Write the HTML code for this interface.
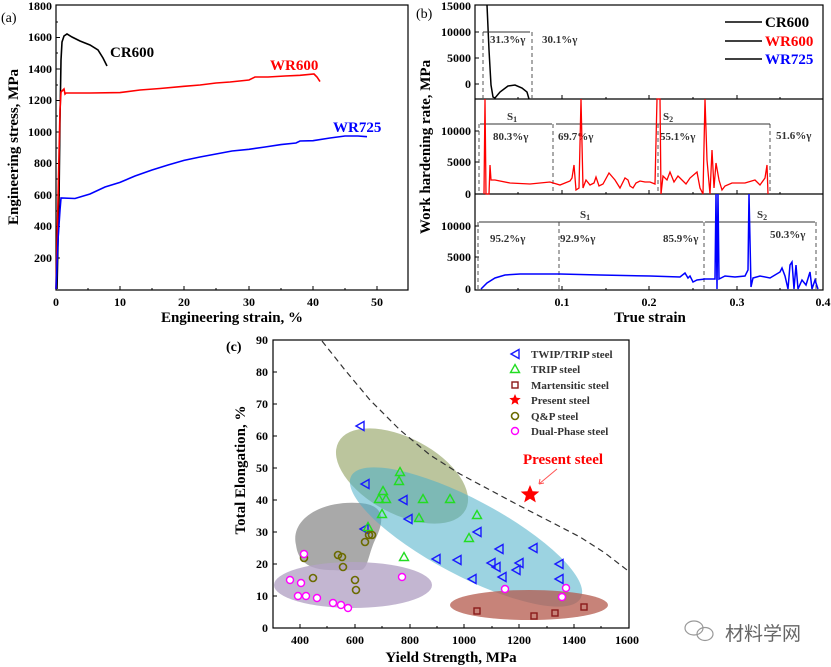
<!DOCTYPE html>
<html><head><meta charset="utf-8"><style>
html,body{margin:0;padding:0;background:#fff;}
svg{display:block;font-family:"Liberation Serif",serif;}
.t{font-weight:bold;font-size:12px;}
.ax{font-weight:bold;font-size:15px;}
.s{font-weight:bold;font-size:11px;fill:#333;}
</style></head><body>
<svg width="831" height="667" viewBox="0 0 831 667" xmlns="http://www.w3.org/2000/svg">
<!-- Panel a -->
<text x="1" y="22" font-size="14">(a)</text>
<rect x="56" y="5" width="352" height="285" fill="none" stroke="#000" stroke-width="1.2"/>
<g stroke="#000" stroke-width="1">
<path d="M56 258h4M56 226.5h4M56 195h4M56 163.5h4M56 132h4M56 100.5h4M56 69h4M56 37.5h4M56 242h2M56 211h2M56 179h2M56 148h2M56 116h2M56 85h2M56 53h2M56 22h2"/>
<path d="M120 290v-4M184 290v-4M249 290v-4M313 290v-4M377 290v-4M88 290v-2M152 290v-2M216 290v-2M281 290v-2M345 290v-2"/>
</g>
<g class="t" text-anchor="end">
<text x="52" y="10">1800</text><text x="52" y="41">1600</text><text x="52" y="73">1400</text><text x="52" y="104">1200</text><text x="52" y="136">1000</text><text x="52" y="167">800</text><text x="52" y="199">600</text><text x="52" y="230">400</text><text x="52" y="262">200</text>
</g>
<g class="t" text-anchor="middle">
<text x="56" y="306">0</text><text x="120" y="306">10</text><text x="184" y="306">20</text><text x="249" y="306">30</text><text x="313" y="306">40</text><text x="377" y="306">50</text>
</g>
<text class="ax" x="232" y="322" text-anchor="middle">Engineering strain, %</text>
<text class="ax" transform="translate(18,147) rotate(-90)" text-anchor="middle">Engineering stress, MPa</text>
<polyline fill="none" stroke="#000" stroke-width="1.6" points="57,289 59,200 60,120 61,60 62,42 64,36 67,34 72,37 80,41 90,45 98,50 103,58 107,66"/>
<polyline fill="none" stroke="#f00" stroke-width="1.6" points="56,289 58,200 60,110 61,92 63,90 64,89 65,94 66,93 90,93 120,92.6 140,90 160,88.5 184,86.3 200,85 216,83 230,82 249,80 255,77 268,77 285,76 300,75.3 314,74 317,77 320,81.6"/>
<polyline fill="none" stroke="#00f" stroke-width="1.6" points="56,289 58,240 60,210 61,198 75,198.5 90,194 105,187 120,182.4 135,176 152,170 168,165 184,160.4 200,157 216,154 232,151 249,149.3 265,147 281,144.6 296,143 300,141 313,140.7 330,138 345,136 358,136 367,136.7"/>
<text class="ax" x="110" y="57" font-size="17">CR600</text>
<text class="ax" x="270" y="70" font-size="17" fill="#f00">WR600</text>
<text class="ax" x="333" y="132" font-size="17" fill="#00f">WR725</text>

<!-- Panel b -->
<text x="416" y="18" font-size="14">(b)</text>
<rect x="475" y="5" width="348" height="285" fill="none" stroke="#000" stroke-width="1.2"/>
<path d="M475 99H823M475 194H823" stroke="#000" stroke-width="1.2"/>
<g stroke="#000" stroke-width="1">
<path d="M562 99v-4M649 99v-4M737 99v-4M518 99v-2M606 99v-2M693 99v-2M780 99v-2"/>
<path d="M562 194v-4M649 194v-4M737 194v-4M518 194v-2M606 194v-2M693 194v-2M780 194v-2"/>
<path d="M562 290v-4M649 290v-4M737 290v-4M518 290v-2M606 290v-2M693 290v-2M780 290v-2"/>
<path d="M475 32h4M475 58h4M475 84h4M475 131h4M475 162h4M475 226h4M475 257h4"/>
</g>
<g class="t" text-anchor="end">
<text x="471" y="10">15000</text><text x="471" y="36">10000</text><text x="471" y="62">5000</text><text x="471" y="88">0</text>
<text x="471" y="135">10000</text><text x="471" y="166">5000</text><text x="471" y="198">0</text>
<text x="471" y="230">10000</text><text x="471" y="261">5000</text><text x="471" y="293">0</text>
</g>
<g class="t" text-anchor="middle">
<text x="562" y="306">0.1</text><text x="649" y="306">0.2</text><text x="737" y="306">0.3</text><text x="823" y="306">0.4</text>
</g>
<text class="ax" x="650" y="322" text-anchor="middle">True strain</text>
<text class="ax" transform="translate(430,147) rotate(-90)" text-anchor="middle">Work hardening rate, MPa</text>
<g stroke="#000" stroke-width="1.4"><path d="M725 22h37M725 41h37M725 59h37"/></g>
<text class="ax" x="765" y="27">CR600</text>
<text class="ax" x="765" y="46" fill="#f00">WR600</text>
<text class="ax" x="765" y="64" fill="#00f">WR725</text>
<polyline fill="none" stroke="#000" stroke-width="1.5" points="487,5 489,50 491,85 493,97 495,98 500,92 508,86 515,85 522,88 527,92 529,99"/>
<g stroke="#555" stroke-dasharray="4,3" fill="none"><path d="M483 32V99M532 32V99"/></g>
<path d="M483 32H530" stroke="#333"/>
<text class="s" x="490" y="43">31.3%γ</text><text class="s" x="542" y="43">30.1%γ</text>
<g stroke="#555" stroke-dasharray="4,3" fill="none"><path d="M479 124V194M553 124V194M658 124V194M770 124V194"/></g>
<path d="M480 124H552M556 124H770" stroke="#333"/>
<text class="s" x="507" y="120">S<tspan font-size="8" dy="2">1</tspan></text>
<text class="s" x="663" y="120">S<tspan font-size="8" dy="2">2</tspan></text>
<text class="s" x="493" y="140">80.3%γ</text><text class="s" x="558" y="140">69.7%γ</text><text class="s" x="660" y="140">55.1%γ</text><text class="s" x="776" y="139">51.6%γ</text>
<polyline fill="none" stroke="#f00" stroke-width="1.3" points="484,194 485,99 486,194 489,194 490,165 491,180 495,180 510,183 530,184 550,182 560,185 570,181 572,178 574,165 576,190 579,188 581,99 583,188 586,180 590,185 594,183 596,177 599,186 603,184 609,173 615,180 620,188 625,178 628,180 630,186 633,188 636,183 640,181 645,182 650,182 655,184 657,99 660,99 661,194 663,176 667,180 670,172 674,182 678,176 682,180 686,184 690,178 697,172 700,188 703,194 705,99 707,160 710,194 712,150 714,188 716,163 719,180 722,190 725,186 732,183 745,183 755,180 760,185 765,178 767,165 768,194"/>
<g stroke="#555" stroke-dasharray="4,3" fill="none"><path d="M478 222V289M559 222V289M704 222V289M816 222V289"/></g>
<path d="M479 222H703M705 222H815" stroke="#333"/>
<text class="s" x="580" y="218">S<tspan font-size="8" dy="2">1</tspan></text>
<text class="s" x="757" y="218">S<tspan font-size="8" dy="2">2</tspan></text>
<text class="s" x="490" y="242">95.2%γ</text><text class="s" x="560" y="242">92.9%γ</text><text class="s" x="663" y="242">85.9%γ</text><text class="s" x="770" y="238">50.3%γ</text>
<polyline fill="none" stroke="#00f" stroke-width="1.5" points="481,289 487,283 495,278 505,275 520,274 560,274 600,275 650,276 680,277 685,273 688,278 690,276 693,282 697,280 705,279 715,279 716,194 717,289 718,194 719,279 725,276 735,277 745,276 748,270 749,194 751,287 753,278 760,276 770,278 780,272 782,268 785,276 788,289 790,265 792,262 794,289 796,265 798,289 802,280 806,285 810,272 812,289 815,280 818,289"/>

<!-- Panel c -->
<text x="226" y="351" font-size="14" font-weight="bold">(c)</text>
<ellipse cx="402" cy="476" rx="72" ry="38" transform="rotate(28 402 476)" fill="#8e9e5c" opacity="0.6"/>
<path d="M296 545 C290 520 320 500 360 503 C385 505 385 520 375 540 C368 555 368 570 360 570 C330 570 300 575 296 545Z" fill="#8c8c8c" opacity="0.75"/>
<ellipse cx="353" cy="585" rx="79" ry="23" fill="#b4a4c6" opacity="0.8"/>
<ellipse cx="466" cy="537" rx="130" ry="38" transform="rotate(28 466 537)" fill="#4aaec8" opacity="0.55"/>
<ellipse cx="529" cy="605" rx="79" ry="15" fill="#b45a4c" opacity="0.75"/>
<rect x="273" y="340" width="356" height="288" fill="none" stroke="#000" stroke-width="1.2"/>
<g stroke="#000" stroke-width="1">
<path d="M300 628v-4M355 628v-4M410 628v-4M464 628v-4M519 628v-4M574 628v-4M327 628v-2M382 628v-2M437 628v-2M492 628v-2M547 628v-2M601 628v-2"/>
<path d="M273 596h4M273 564h4M273 532h4M273 500h4M273 468h4M273 436h4M273 404h4M273 372h4"/>
</g>
<g class="t" text-anchor="end">
<text x="268" y="632">0</text><text x="268" y="600">10</text><text x="268" y="568">20</text><text x="268" y="536">30</text><text x="268" y="504">40</text><text x="268" y="472">50</text><text x="268" y="440">60</text><text x="268" y="408">70</text><text x="268" y="376">80</text><text x="268" y="344">90</text>
</g>
<g class="t" text-anchor="middle">
<text x="300" y="644">400</text><text x="355" y="644">600</text><text x="410" y="644">800</text><text x="464" y="644">1000</text><text x="519" y="644">1200</text><text x="574" y="644">1400</text><text x="627" y="644">1600</text>
</g>
<text class="ax" x="451" y="662" text-anchor="middle">Yield Strength, MPa</text>
<text class="ax" transform="translate(245,470) rotate(-90)" text-anchor="middle">Total Elongation, %</text>
<polyline fill="none" stroke="#333" stroke-width="1.2" stroke-dasharray="6,4" points="322,341 345,370 370,400 400,430 430,455 460,474 490,490 520,506 553,523 580,537 605,553 627,570"/>
<g fill="none" stroke="#1a1aff" stroke-width="1.4">
<path d="M-4 0L4 -4.5L4 4.5Z" transform="translate(360,426)"/>
<path d="M-4 0L4 -4.5L4 4.5Z" transform="translate(365,484)"/>
<path d="M-4 0L4 -4.5L4 4.5Z" transform="translate(403,500)"/>
<path d="M-4 0L4 -4.5L4 4.5Z" transform="translate(408,519)"/>
<path d="M-4 0L4 -4.5L4 4.5Z" transform="translate(364,529)"/>
<path d="M-4 0L4 -4.5L4 4.5Z" transform="translate(477,532)"/>
<path d="M-4 0L4 -4.5L4 4.5Z" transform="translate(436,559)"/>
<path d="M-4 0L4 -4.5L4 4.5Z" transform="translate(457,560)"/>
<path d="M-4 0L4 -4.5L4 4.5Z" transform="translate(472,579)"/>
<path d="M-4 0L4 -4.5L4 4.5Z" transform="translate(499,549)"/>
<path d="M-4 0L4 -4.5L4 4.5Z" transform="translate(491,563)"/>
<path d="M-4 0L4 -4.5L4 4.5Z" transform="translate(496,567)"/>
<path d="M-4 0L4 -4.5L4 4.5Z" transform="translate(502,577)"/>
<path d="M-4 0L4 -4.5L4 4.5Z" transform="translate(519,563)"/>
<path d="M-4 0L4 -4.5L4 4.5Z" transform="translate(516,570)"/>
<path d="M-4 0L4 -4.5L4 4.5Z" transform="translate(533,548)"/>
<path d="M-4 0L4 -4.5L4 4.5Z" transform="translate(559,564)"/>
<path d="M-4 0L4 -4.5L4 4.5Z" transform="translate(559,579)"/>
<path d="M-4 0L4 -4.5L4 4.5Z" transform="translate(515,354)"/>
</g>
<g fill="none" stroke="#22dd22" stroke-width="1.4">
<path d="M0 -4.5L4.5 3.5L-4.5 3.5Z" transform="translate(400,472)"/>
<path d="M0 -4.5L4.5 3.5L-4.5 3.5Z" transform="translate(399,481)"/>
<path d="M0 -4.5L4.5 3.5L-4.5 3.5Z" transform="translate(383,491)"/>
<path d="M0 -4.5L4.5 3.5L-4.5 3.5Z" transform="translate(379,499)"/>
<path d="M0 -4.5L4.5 3.5L-4.5 3.5Z" transform="translate(386,499)"/>
<path d="M0 -4.5L4.5 3.5L-4.5 3.5Z" transform="translate(382,514)"/>
<path d="M0 -4.5L4.5 3.5L-4.5 3.5Z" transform="translate(423,499)"/>
<path d="M0 -4.5L4.5 3.5L-4.5 3.5Z" transform="translate(450,499)"/>
<path d="M0 -4.5L4.5 3.5L-4.5 3.5Z" transform="translate(419,518)"/>
<path d="M0 -4.5L4.5 3.5L-4.5 3.5Z" transform="translate(477,515)"/>
<path d="M0 -4.5L4.5 3.5L-4.5 3.5Z" transform="translate(469,538)"/>
<path d="M0 -4.5L4.5 3.5L-4.5 3.5Z" transform="translate(404,557)"/>
<path d="M0 -4.5L4.5 3.5L-4.5 3.5Z" transform="translate(368,527)"/>
<path d="M0 -4.5L4.5 3.5L-4.5 3.5Z" transform="translate(515,369)"/>
</g>
<g fill="none" stroke="#8b1a1a" stroke-width="1.4">
<rect x="474" y="608" width="6" height="6"/><rect x="531" y="613" width="6" height="6"/><rect x="552" y="610" width="6" height="6"/><rect x="581" y="604" width="6" height="6"/><rect x="512" y="382" width="6" height="6"/>
</g>
<g fill="none" stroke="#6b6b00" stroke-width="1.6">
<circle cx="304" cy="558" r="3.5"/><circle cx="313" cy="578" r="3.5"/><circle cx="338" cy="555" r="3.5"/><circle cx="342" cy="557" r="3.5"/><circle cx="343" cy="567" r="3.5"/><circle cx="355" cy="580" r="3.5"/><circle cx="356" cy="590" r="3.5"/><circle cx="365" cy="542" r="3.5"/><circle cx="369" cy="535" r="3.5"/><circle cx="372" cy="535" r="3.5"/><circle cx="515" cy="416" r="3.5"/>
</g>
<g fill="#fff" stroke="#ff00ff" stroke-width="1.4">
<circle cx="290" cy="580" r="3.5"/><circle cx="301" cy="583" r="3.5"/><circle cx="298" cy="596" r="3.5"/><circle cx="306" cy="596" r="3.5"/><circle cx="317" cy="598" r="3.5"/><circle cx="333" cy="603" r="3.5"/><circle cx="341" cy="605" r="3.5"/><circle cx="348" cy="608" r="3.5"/><circle cx="304" cy="554" r="3.5"/><circle cx="402" cy="577" r="3.5"/><circle cx="505" cy="589" r="3.5"/><circle cx="562" cy="597" r="3.5"/><circle cx="566" cy="588" r="3.5"/><circle cx="515" cy="431" r="3.5"/>
</g>
<path d="M530 485l2.6 6.2 6.7.4-5.2 4.3 1.7 6.5-5.8-3.6-5.8 3.6 1.7-6.5-5.2-4.3 6.7-.4Z" fill="#f00"/>
<path d="M515 394l1.6 3.8 4.1.3-3.2 2.6 1 4-3.5-2.2-3.5 2.2 1-4-3.2-2.6 4.1-.3Z" fill="#f00"/>
<g class="s" font-size="11">
<text x="531" y="358">TWIP/TRIP steel</text><text x="531" y="373">TRIP steel</text><text x="531" y="389">Martensitic steel</text><text x="531" y="404">Present steel</text><text x="531" y="420">Q&amp;P steel</text><text x="531" y="435">Dual-Phase steel</text>
</g>
<text x="563" y="464" font-size="15" font-weight="bold" fill="#f00" text-anchor="middle">Present steel</text>
<path d="M557 469L539 484M539 484l5-1M539 484l1-5" stroke="#f55" stroke-width="1" fill="none"/>
<g stroke="#999" fill="none" stroke-width="1.2">
<ellipse cx="694" cy="628" rx="9" ry="7"/><ellipse cx="705" cy="634" rx="8" ry="6.5"/>
</g>
<text x="725" y="640" font-size="19" fill="#666" font-family="'Liberation Sans','Noto Sans CJK SC',sans-serif">材料学网</text>
</svg>
</body></html>
